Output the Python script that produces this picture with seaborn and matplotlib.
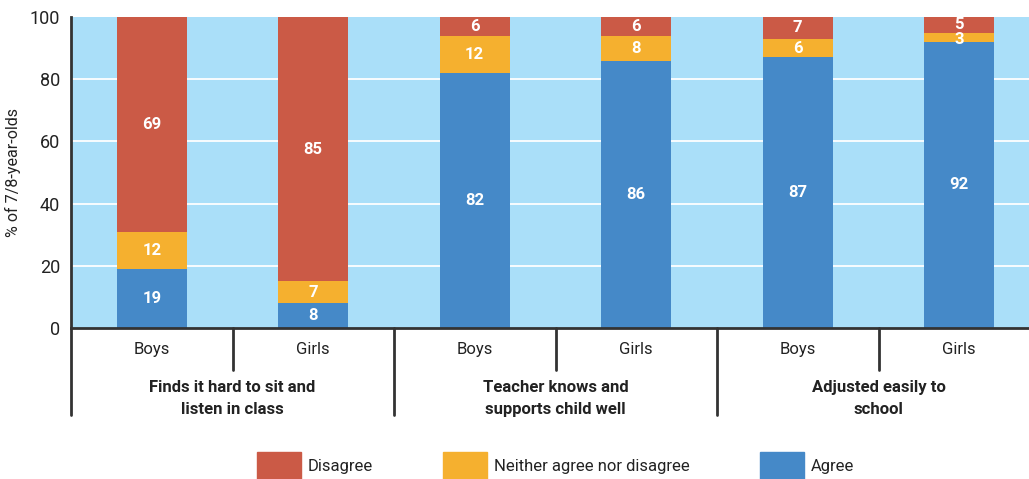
import seaborn as sns
import pandas as pd
import matplotlib.pyplot as plt
from matplotlib.patches import Patch

# Data
groups = ["Finds it hard to sit and\nlisten in class",
          "Teacher knows and\nsupports child well",
          "Adjusted easily to\nschool"]
genders = ["Boys", "Girls"]
agree = [19, 8, 82, 86, 87, 92]
neither = [12, 7, 12, 8, 6, 3]
disagree = [69, 85, 6, 6, 7, 5]

c_agree = "#4589c8"
c_neither = "#f5b02f"
c_disagree = "#cb5a46"
bg = "#aadff9"
dark = "#333333"

labels = [f"{g}|{s}" for g in range(len(groups)) for s in genders]
df = pd.DataFrame({"bar": labels, "Agree": agree, "Neither": neither, "Disagree": disagree})
df["top2"] = df["Agree"] + df["Neither"]
df["top3"] = df["top2"] + df["Disagree"]

sns.set_style("white")
plt.rcParams["font.family"] = ["Roboto", "DejaVu Sans"]

fig = plt.figure(figsize=(10.29, 4.79), dpi=100)
ax = fig.add_axes([71 / 1029, 151 / 479, 969 / 1029, 311 / 479])
ax.set_facecolor(bg)

# stacked bars drawn as cumulative overlays
sns.barplot(data=df, x="bar", y="top3", color=c_disagree, width=0.435, saturation=1, ax=ax)
sns.barplot(data=df, x="bar", y="top2", color=c_neither, width=0.435, saturation=1, ax=ax)
sns.barplot(data=df, x="bar", y="Agree", color=c_agree, width=0.435, saturation=1, ax=ax)
for p in ax.patches:
    p.set_linewidth(0)

ax.set_xlim(-0.5, 5.5)
ax.set_ylim(0, 100)
ax.set_yticks([0, 20, 40, 60, 80, 100])
ax.tick_params(axis="y", length=0, labelsize=13, labelcolor="#222222", pad=8)
ax.set_xticks([])
ax.set_xlabel("")
ax.set_ylabel("% of 7/8-year-olds", fontsize=11.5, color="#222222", labelpad=6)
for y in [20, 40, 60, 80]:
    ax.axhline(y, color="white", lw=1.3, zorder=0.5)
ax.set_axisbelow(True)
for s in ["top", "right"]:
    ax.spines[s].set_visible(False)
ax.spines["left"].set_color(dark)
ax.spines["left"].set_linewidth(2)
ax.spines["bottom"].set_color(dark)
ax.spines["bottom"].set_linewidth(2)

# value labels (tiny segments: hang the label from the segment top)
for i, row in df.iterrows():
    segs = [(0, row["Agree"]), (row["Agree"], row["Neither"]), (row["top2"], row["Disagree"])]
    for base, h in segs:
        if h <= 4:
            ax.text(i, base + h + 0.3, f"{h}", ha="center", va="top", color="white",
                    fontsize=12, fontweight="bold")
        else:
            ax.text(i, base + h / 2, f"{h}", ha="center", va="center", color="white",
                    fontsize=12, fontweight="bold")

# category axis
trans = ax.get_xaxis_transform()
for i, row in df.iterrows():
    ax.text(i, -0.068, row["bar"].split("|")[1], ha="center", va="center",
            fontsize=12, color="#222222", transform=trans)
for g, name in enumerate(groups):
    ax.text(2 * g + 0.5, -0.226, name, ha="center", va="center", fontsize=12,
            fontweight="bold", color="#222222", linespacing=1.6, transform=trans)
    ax.plot([2 * g + 0.5] * 2, [0, -0.135], color=dark, lw=2, clip_on=False, transform=trans)
    ax.plot([2 * g - 0.5] * 2, [0, -0.28], color=dark, lw=2, clip_on=False, transform=trans)

handles = [Patch(color=c_disagree, label="Disagree"),
           Patch(color=c_neither, label="Neither agree nor disagree"),
           Patch(color=c_agree, label="Agree")]
fig.legend(handles=handles, loc="lower center", bbox_to_anchor=(0.54, -0.035), ncol=3,
           frameon=False, fontsize=12, handlelength=2.65, handleheight=2.3,
           handletextpad=0.4, columnspacing=4.2, labelcolor="#222222")

fig.savefig("out.png", dpi=100)
